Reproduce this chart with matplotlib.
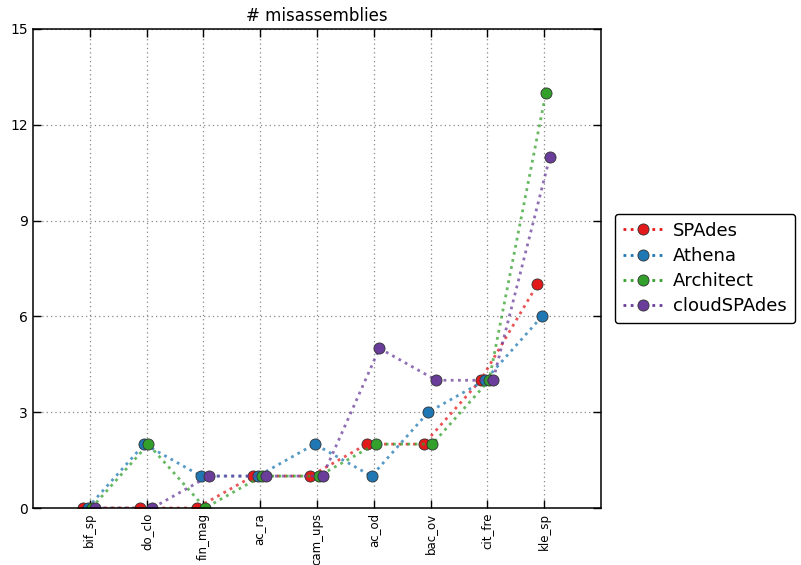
import matplotlib
matplotlib.use('Agg')
import matplotlib.pyplot as plt
import numpy as np

categories = ['bif_sp', 'do_clo', 'fin_mag', 'ac_ra', 'cam_ups', 'ac_od', 'bac_ov', 'cit_fre', 'kle_sp']
spades = [0, 0, 0, 1, 1, 2, 2, 4, 7]
athena = [0, 2, 1, 1, 2, 1, 3, 4, 6]
architect = [0, 2, 0, 1, 1, 2, 2, 4, 13]
cloudspades = [0, 0, 1, 1, 1, 5, 4, 4, 11]

series = [('SPAdes', spades, '#e31a1c'),
          ('Athena', athena, '#1f78b4'),
          ('Architect', architect, '#33a02c'),
          ('cloudSPAdes', cloudspades, '#6a3d9a')]
offsets = [-0.12, -0.04, 0.03, 0.1]

fig = plt.figure(figsize=(8.01, 5.65), dpi=100)
fig.patch.set_facecolor('white')
ax = fig.add_axes([33 / 801, 57 / 565, 568 / 801, 479 / 565])

x = np.arange(len(categories))
for (name, vals, col), off in zip(series, offsets):
    ax.plot(x + off, vals, linestyle=(0, (1, 1.6)), linewidth=2, color=col,
            alpha=0.75, label=name)
    ax.plot(x + off, vals, linestyle='none', marker='o', color=col,
            markersize=8, markeredgecolor='#333333', markeredgewidth=0.6)

# legend handles with line + marker
handles = [plt.Line2D([], [], linestyle=(0, (1, 1.6)), linewidth=2, color=col,
                      marker='o', markersize=8, markeredgecolor='#333333',
                      markeredgewidth=0.6) for _, _, col in series]

ax.set_xlim(-1, len(categories))
ax.set_ylim(0, 15)
ax.set_yticks(range(0, 16, 3))
ax.set_xticks(x)
ax.set_xticklabels(categories, rotation=90, fontsize=8.5)
ax.tick_params(axis='y', labelsize=10)
ax.tick_params(direction='in', top=True, right=True, length=6, width=1)
ax.grid(True, linestyle=(0, (1, 2.5)), color='#888888', linewidth=0.9)
for s in ax.spines.values():
    s.set_linewidth(1.1)
ax.set_title('# misassemblies', fontsize=12)
ax.legend(handles, [s[0] for s in series], loc='center left',
          bbox_to_anchor=(1.008, 0.5), fontsize=13, numpoints=1,
          handlelength=2.2, handletextpad=0.6, labelspacing=0.4,
          borderpad=0.45, fancybox=True, framealpha=1, edgecolor='black')

plt.savefig('out.png', dpi=100)
